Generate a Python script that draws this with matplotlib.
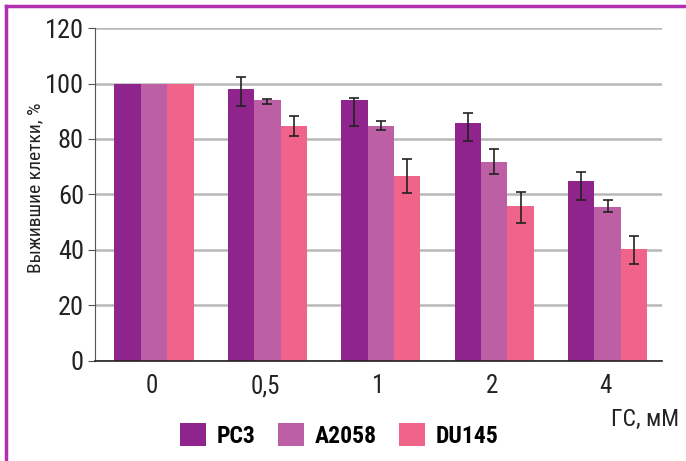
import matplotlib.pyplot as plt
import numpy as np
from matplotlib.patches import Patch
from matplotlib.lines import Line2D

fams = ['Roboto Condensed', 'Liberation Sans Narrow', 'Roboto', 'DejaVu Sans']
plt.rcParams['font.family'] = fams

# data
doses = ['0', '0,5', '1', '2', '4']
series = ['PC3', 'A2058', 'DU145']
colors = ['#8e248c', '#bd5fa5', '#f0648a']

pc3 = [100, 98.2, 93.9, 85.9, 64.9]
pc3_lo = [0, 6.3, 9.2, 6.6, 6.9]
pc3_hi = [0, 4.1, 0.9, 3.5, 3.2]

a2058 = [100, 93.9, 84.8, 71.8, 55.5]
a2058_lo = [0, 1.2, 1.5, 4.5, 1.9]
a2058_hi = [0, 0.6, 1.7, 4.6, 2.4]

du145 = [100, 84.8, 66.7, 55.9, 40.3]
du145_lo = [0, 3.7, 6.2, 6.3, 5.5]
du145_hi = [0, 3.5, 6.1, 4.9, 4.6]

values = [pc3, a2058, du145]
lows = [pc3_lo, a2058_lo, du145_lo]
highs = [pc3_hi, a2058_hi, du145_hi]

fig = plt.figure(figsize=(6.86, 4.61), dpi=100)
ax = fig.add_axes([0.1385, 0.218, 0.8265, 0.721])

x = np.arange(len(doses))
w = 0.233
for i in range(3):
    lo = np.array(lows[i])
    hi = np.array(highs[i])
    ax.bar(x + (i - 1) * w + 0.02, values[i], w, color=colors[i], zorder=2)
    m = (lo + hi) > 0
    ax.errorbar((x + (i - 1) * w + 0.02)[m], np.array(values[i])[m],
                yerr=[lo[m], hi[m]], fmt='none', ecolor='#222222',
                elinewidth=1.2, capsize=3.5, capthick=1.2, zorder=3)

ax.set_xlim(-0.5, 4.5)
ax.set_ylim(0, 120)
ax.set_yticks(np.arange(0, 121, 20))
ax.set_xticks(x)
ax.set_xticklabels(doses)
ax.yaxis.grid(True, color='#b8b8b8', linewidth=1.8)
ax.set_axisbelow(True)
for s in ['top', 'right']:
    ax.spines[s].set_visible(False)
ax.spines['left'].set_color('#555555')
ax.spines['bottom'].set_color('#222222')
ax.spines['bottom'].set_linewidth(1.2)
ax.tick_params(axis='y', labelsize=19, length=5, color='#555555', pad=3,
               labelcolor='#222222')
ax.tick_params(axis='x', labelsize=18, length=0, pad=10, labelcolor='#222222')
ax.set_ylabel('Выжившие клетки, %', fontsize=14, color='#222222')
ax.yaxis.set_label_coords(-0.09, 0.52)

fig.text(0.99, 1 - 419 / 461, 'ГС, мМ', ha='right', va='center',
         fontsize=17, color='#222222')

handles = [Patch(facecolor=c, edgecolor='none') for c in colors]
leg = fig.legend(handles, series, loc='center', bbox_to_anchor=(0.495, 0.055),
                 ncol=3, frameon=False, handlelength=1.1, handleheight=1.1,
                 handletextpad=0.45, columnspacing=0.95,
                 prop={'weight': 'bold', 'size': 17, 'family': fams})

# frame lines on left and top
fig.add_artist(Line2D([6 / 686, 6 / 686], [0, 1 - 6 / 461], color='#b030b0',
                      linewidth=2.5, transform=fig.transFigure))
fig.add_artist(Line2D([6 / 686, 1], [1 - 6 / 461, 1 - 6 / 461], color='#b030b0',
                      linewidth=2.5, transform=fig.transFigure))

fig.savefig('out.png', dpi=100)
